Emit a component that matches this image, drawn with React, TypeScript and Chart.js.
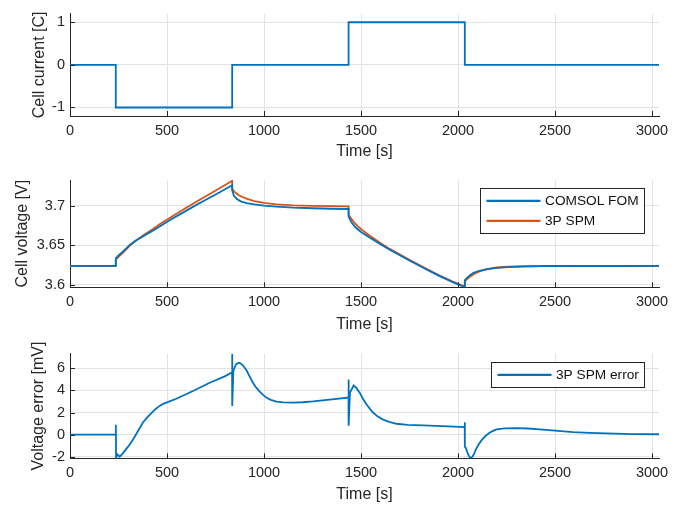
import React, { useEffect, useRef } from 'react';
import { Chart, registerables } from 'chart.js';

Chart.register(...registerables);

const FONT = '"Liberation Sans", Arial, Helvetica, sans-serif';
const BLUE = '#0072BD';
const ORANGE = '#D95319';
const AXIS = '#262626';
const GRID = '#e3e3e3';

// ---- shared x axis ----
const X_MAX = 3036;
const xTicks = [0, 500, 1000, 1500, 2000, 2500, 3000];

// ---- panel 1: cell current ----
const currentTime = [0, 236, 236, 836, 836, 1436, 1436, 2035, 2035, 3036];
const currentValue = [0, 0, -1, -1, 0, 0, 1, 1, 0, 0];
const currentTicks = [-1, 0, 1];

// ---- panel 2: cell voltage ----
const voltTime = [0, 236, 236.01, 250, 270, 290, 310, 340, 380, 420, 462, 520, 580, 640, 700, 760, 836, 836.01, 845, 860, 880, 910, 950, 1000, 1064, 1150, 1250, 1350, 1436, 1436.01, 1450, 1470, 1500, 1540, 1600, 1648, 1740, 1820, 1900, 1970, 2035, 2035.01, 2045, 2060, 2080, 2110, 2150, 2200, 2260, 2335, 2450, 2600, 2800, 3036];
const voltFom = [3.6240, 3.6240, 3.6335, 3.6374, 3.6417, 3.6462, 3.6508, 3.6560, 3.6619, 3.6676, 3.6739, 3.6825, 3.6910, 3.6995, 3.7075, 3.7155, 3.7258, 3.7195, 3.7125, 3.7086, 3.7055, 3.7032, 3.7016, 3.7001, 3.6988, 3.6976, 3.6968, 3.6962, 3.6959, 3.6865, 3.6793, 3.6731, 3.6668, 3.6606, 3.6515, 3.6443, 3.6321, 3.6217, 3.6117, 3.6038, 3.5971, 3.6058, 3.6086, 3.6121, 3.6154, 3.6179, 3.6199, 3.6216, 3.6226, 3.6232, 3.6237, 3.6239, 3.6239, 3.6240];
const voltSpm = [3.6240, 3.6240, 3.6318, 3.6355, 3.6400, 3.6450, 3.6500, 3.6560, 3.6630, 3.6695, 3.6765, 3.6855, 3.6945, 3.7035, 3.7120, 3.7205, 3.7315, 3.7215, 3.7185, 3.7150, 3.7120, 3.7090, 3.7058, 3.7035, 3.7018, 3.7005, 3.6998, 3.6994, 3.6992, 3.6885, 3.6835, 3.6775, 3.6705, 3.6630, 3.6530, 3.6455, 3.6330, 3.6225, 3.6125, 3.6045, 3.5978, 3.6040, 3.6070, 3.6100, 3.6135, 3.6170, 3.6200, 3.6220, 3.6232, 3.6238, 3.6241, 3.6241, 3.6240, 3.6240];
const voltTicks = [3.6, 3.65, 3.7];

// ---- panel 3: voltage error ----
const errTime = [0, 236, 236.3, 237.5, 244, 256, 270, 290, 308, 325, 340, 358, 376, 398, 420, 440, 462, 480, 500, 548, 634, 720, 800, 835.5, 836, 836.5, 842, 855, 865, 875, 890, 909, 925, 943, 960, 978, 995, 1012, 1035, 1064, 1100, 1150, 1200, 1253, 1350, 1435.5, 1436, 1436.5, 1443, 1462, 1475, 1493, 1510, 1528, 1545, 1562, 1585, 1614, 1645, 1683, 1740, 1820, 1950, 2034.5, 2035, 2035.5, 2040, 2052, 2064, 2072, 2080, 2095, 2108, 2120, 2133, 2146, 2170, 2198, 2240, 2301, 2360, 2421, 2500, 2593, 2680, 2765, 2900, 3036];
const errValue = [0, 0, 0.9, -2.12, -1.8, -2.0, -1.75, -1.3, -0.9, -0.45, 0.0, 0.55, 1.1, 1.55, 1.95, 2.3, 2.6, 2.78, 2.92, 3.25, 3.95, 4.7, 5.3, 5.65, 7.33, 2.6, 5.8, 6.35, 6.48, 6.5, 6.3, 5.85, 5.3, 4.7, 4.25, 3.9, 3.6, 3.35, 3.15, 2.98, 2.92, 2.9, 2.93, 3.0, 3.2, 3.35, 5.0, 0.8, 3.8, 4.45, 4.25, 3.8, 3.25, 2.75, 2.35, 2.0, 1.65, 1.36, 1.15, 0.98, 0.88, 0.83, 0.75, 0.68, 1.12, -1.1, -1.2, -1.8, -2.15, -2.05, -1.85, -1.25, -0.85, -0.55, -0.28, -0.06, 0.25, 0.47, 0.56, 0.59, 0.55, 0.47, 0.36, 0.23, 0.15, 0.1, 0.05, 0.03];
const errTicks = [-2, 0, 2, 4, 6];

const pts = (xs: number[], ys: number[]) => xs.map((x, i) => ({ x, y: ys[i] }));

type LegendItem = { label: string; color: string };

function makePlugin(legend: LegendItem[]) {
  return {
    id: 'matlabDecor',
    afterDatasetsDraw(chart: any) {
      const { ctx, chartArea: a, scales } = chart;
      ctx.save();
      // inward tick marks
      ctx.strokeStyle = AXIS;
      ctx.lineWidth = 1;
      ctx.beginPath();
      scales.x.ticks.forEach((t: any) => {
        const px = Math.round(scales.x.getPixelForValue(t.value)) + 0.5;
        ctx.moveTo(px, a.bottom);
        ctx.lineTo(px, a.bottom - 5);
      });
      scales.y.ticks.forEach((t: any) => {
        const py = Math.round(scales.y.getPixelForValue(t.value)) + 0.5;
        ctx.moveTo(a.left, py);
        ctx.lineTo(a.left + 5, py);
      });
      ctx.stroke();
      // legend box
      if (legend.length) {
        ctx.font = `13.7px ${FONT}`;
        const tw = Math.max(...legend.map((l) => ctx.measureText(l.label).width));
        const w = Math.round(6 + 54 + 4 + tw + 6.5);
        const h = Math.round(24.5 + 20 * (legend.length - 1));
        const x0 = Math.round(a.right - 15 - w) + 0.5;
        const y0 = Math.round(a.top + 8.3) + 0.5;
        ctx.fillStyle = '#ffffff';
        ctx.fillRect(x0, y0, w, h);
        ctx.strokeStyle = AXIS;
        ctx.lineWidth = 1;
        ctx.strokeRect(x0, y0, w, h);
        legend.forEach((l, i) => {
          const yy = y0 + 12.3 + 20 * i;
          ctx.strokeStyle = l.color;
          ctx.lineWidth = 2.2;
          ctx.beginPath();
          ctx.moveTo(x0 + 6, yy);
          ctx.lineTo(x0 + 60, yy);
          ctx.stroke();
          ctx.fillStyle = '#111111';
          ctx.textBaseline = 'middle';
          ctx.textAlign = 'left';
          ctx.fillText(l.label, x0 + 64.5, yy + 0.5);
        });
      }
      ctx.restore();
    },
  };
}

type PanelProps = {
  top: number;
  height: number;
  padTop: number;
  xAxisH: number;
  xTitlePad: number;
  yTitle: string;
  yTitlePad: number;
  yMin: number;
  yMax: number;
  yTicks: number[];
  yFmt: (v: number) => string;
  datasets: any[];
  legend: LegendItem[];
};

function Panel(p: PanelProps) {
  const ref = useRef<HTMLCanvasElement | null>(null);
  useEffect(() => {
    if (!ref.current) return;
    const chart = new Chart(ref.current, {
      type: 'line',
      data: { datasets: p.datasets },
      plugins: [makePlugin(p.legend)],
      options: {
        responsive: false,
        animation: false,
        layout: { padding: { left: 0, right: 26, top: p.padTop, bottom: 0 } },
        plugins: { legend: { display: false }, tooltip: { enabled: false } },
        elements: { point: { radius: 0 }, line: { tension: 0 } },
        scales: {
          x: {
            type: 'linear',
            min: 0,
            max: X_MAX,
            afterBuildTicks: (s: any) => {
              s.ticks = xTicks.map((v) => ({ value: v }));
            },
            afterFit: (s: any) => {
              s.height = p.xAxisH;
            },
            grid: { color: GRID, drawTicks: false, lineWidth: 1 },
            border: { display: true, color: AXIS, width: 1 },
            ticks: {
              color: AXIS,
              font: { family: FONT, size: 14.5 },
              padding: 6,
              maxRotation: 0,
              autoSkip: false,
              callback: (v: any) => String(v),
            },
            title: {
              display: true,
              text: 'Time [s]',
              color: AXIS,
              font: { family: FONT, size: 16 },
              padding: { top: 0, bottom: p.xTitlePad },
            },
          },
          y: {
            type: 'linear',
            min: p.yMin,
            max: p.yMax,
            afterBuildTicks: (s: any) => {
              s.ticks = p.yTicks.map((v) => ({ value: v }));
            },
            afterFit: (s: any) => {
              s.width = 70;
            },
            grid: { color: GRID, drawTicks: false, lineWidth: 1 },
            border: { display: true, color: AXIS, width: 1 },
            ticks: {
              color: AXIS,
              font: { family: FONT, size: 14.5 },
              padding: 5,
              autoSkip: false,
              callback: (v: any) => p.yFmt(Number(v)),
            },
            title: {
              display: true,
              text: p.yTitle,
              color: AXIS,
              font: { family: FONT, size: 16 },
              padding: { top: p.yTitlePad, bottom: 0 },
            },
          },
        },
      } as any,
    });
    return () => chart.destroy();
  }, []);
  return (
    <canvas
      ref={ref}
      width={685}
      height={p.height}
      style={{ position: 'absolute', left: 0, top: p.top, width: 685, height: p.height, display: 'block' }}
    />
  );
}

const lineDs = (label: string, data: any[], color: string) => ({
  label,
  data,
  borderColor: color,
  backgroundColor: color,
  borderWidth: 1.8,
  pointRadius: 0,
  fill: false,
  tension: 0,
});

export default function App() {
  return (
    <div style={{ position: 'absolute', left: 0, top: 0, width: 685, height: 506, background: '#ffffff', overflow: 'hidden' }}>
      <Panel
        top={0}
        height={165}
        padTop={10}
        xAxisH={49}
        xTitlePad={4}
        yTitle="Cell current [C]"
        yTitlePad={30}
        yMin={-1.2}
        yMax={1.2}
        yTicks={currentTicks}
        yFmt={(v) => String(v)}
        datasets={[lineDs('Cell current', pts(currentTime, currentValue), BLUE)]}
        legend={[]}
      />
      <Panel
        top={165}
        height={175}
        padTop={15}
        xAxisH={52.7}
        xTitlePad={5.4}
        yTitle="Cell voltage [V]"
        yTitlePad={13.4}
        yMin={3.597}
        yMax={3.7325}
        yTicks={voltTicks}
        yFmt={(v) => String(Math.round(v * 100) / 100)}
        datasets={[
          lineDs('COMSOL FOM', pts(voltTime, voltFom), BLUE),
          lineDs('3P SPM', pts(voltTime, voltSpm), ORANGE),
        ]}
        legend={[
          { label: 'COMSOL FOM', color: BLUE },
          { label: '3P SPM', color: ORANGE },
        ]}
      />
      <Panel
        top={340}
        height={166}
        padTop={11.7}
        xAxisH={47.7}
        xTitlePad={1.4}
        yTitle="Voltage error [mV]"
        yTitlePad={29.4}
        yMin={-2.15}
        yMax={7.33}
        yTicks={errTicks}
        yFmt={(v) => String(v)}
        datasets={[lineDs('3P SPM error', pts(errTime, errValue), BLUE)]}
        legend={[{ label: '3P SPM error', color: BLUE }]}
      />
    </div>
  );
}
